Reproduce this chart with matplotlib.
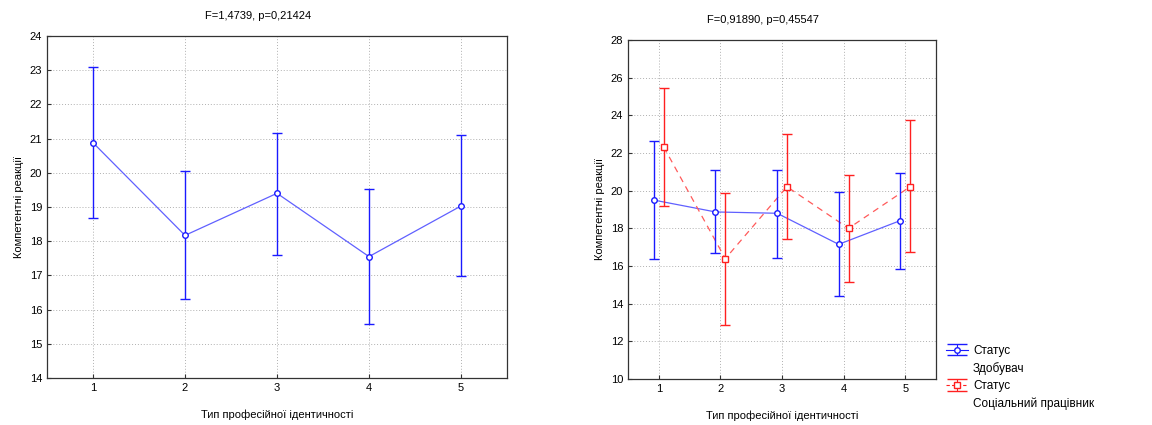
import numpy as np
import matplotlib.pyplot as plt
from matplotlib.lines import Line2D

plt.rcParams['font.family'] = ['Liberation Sans', 'DejaVu Sans']
plt.rcParams['font.size'] = 8

types = [1, 2, 3, 4, 5]

# left panel: total sample
total_mean = [20.88, 18.17, 19.40, 17.55, 19.03]
total_low = [18.68, 16.32, 17.60, 15.58, 16.97]
total_high = [23.10, 20.05, 21.17, 19.53, 21.10]

# right panel: by status
zd_mean = [19.50, 18.87, 18.80, 17.15, 18.41]
zd_low = [16.37, 16.67, 16.42, 14.42, 15.84]
zd_high = [22.64, 21.12, 21.12, 19.91, 20.94]

sp_mean = [22.32, 16.39, 20.21, 18.00, 20.21]
sp_low = [19.17, 12.87, 17.45, 15.13, 16.73]
sp_high = [25.43, 19.86, 22.99, 20.85, 23.73]

legend_rows = ["Статус", "Здобувач", "Статус", "Соціальний працівник"]
titles = ["F=1,4739, p=0,21424", "F=0,91890, p=0,45547"]
xlabel = "Тип професійної ідентичності"
ylabel = "Компетентні реакції"

BLUE = "#1a1aff"
BLUE_LINE = "#6060ff"
RED = "#ff2020"
RED_LINE = "#ff5a5a"


def yerr(mean, low, high):
    m = np.array(mean)
    return [m - np.array(low), np.array(high) - m]


def style_ax(ax):
    ax.grid(True, color="#b0b0b0", linestyle=(0, (1, 2)), linewidth=0.7)
    ax.set_axisbelow(True)
    for s in ax.spines.values():
        s.set_color("#333333")
        s.set_linewidth(0.9)
    ax.tick_params(direction="in", length=3, color="#333333", labelsize=8)
    ax.set_xticks(types)
    ax.set_xlim(0.5, 5.5)
    ax.set_xlabel(xlabel, labelpad=12)
    ax.set_ylabel(ylabel)


fig = plt.figure(figsize=(11.52, 4.25), dpi=100)
W, H = 1152, 425
ax1 = fig.add_axes([47 / W, 1 - 378 / H, 460 / W, 342 / H])
ax2 = fig.add_axes([628 / W, 1 - 379 / H, 308 / W, 339 / H])

x = np.array(types, dtype=float)
ax1.plot(x, total_mean, color=BLUE_LINE, lw=0.9, zorder=3)
ax1.errorbar(x, total_mean, yerr=yerr(total_mean, total_low, total_high),
             fmt="o", color=BLUE, mfc="white", mec=BLUE, ms=4,
             capsize=3.4, elinewidth=1.0, capthick=1.0, zorder=4)
style_ax(ax1)
ax1.set_ylim(14, 24)
ax1.set_yticks(range(14, 25))

off = 0.08
ax2.plot(x - off, zd_mean, color=BLUE_LINE, lw=0.9, zorder=3)
ax2.errorbar(x - off, zd_mean, yerr=yerr(zd_mean, zd_low, zd_high),
             fmt="o", color=BLUE, mfc="white", mec=BLUE, ms=4,
             capsize=3.3, elinewidth=1.0, capthick=1.0, zorder=4)
ax2.plot(x + off, sp_mean, color=RED_LINE, lw=0.9, ls=(0, (5, 4)), zorder=3)
ax2.errorbar(x + off, sp_mean, yerr=yerr(sp_mean, sp_low, sp_high),
             fmt="s", color=RED, mfc="white", mec=RED, ms=4,
             capsize=3.3, elinewidth=1.0, capthick=1.0, zorder=4)
style_ax(ax2)
ax2.set_ylim(10, 28)
ax2.set_yticks(range(10, 29, 2))

fig.text(258 / W, 1 - 16 / H, titles[0], ha="center", va="center", fontsize=8)
fig.text(763 / W, 1 - 20 / H, titles[1], ha="center", va="center", fontsize=8)

# legend proxies (off-data, wide caps like the original legend)
p1 = ax2.errorbar([np.nan], [np.nan], yerr=[[1], [1]], fmt="o-", color=BLUE,
                  mfc="white", mec=BLUE, ms=4, lw=0.8, capsize=7,
                  elinewidth=0.8, capthick=1.0)
p2 = ax2.errorbar([np.nan], [np.nan], yerr=[[1], [1]], fmt="s", ls=(0, (3, 2)),
                  color=RED, mfc="white", mec=RED, ms=4, lw=0.8, capsize=7,
                  elinewidth=0.8, capthick=1.0)
blank = Line2D([], [], linestyle="none")

fig.legend([p1, blank, p2, blank], legend_rows, loc="lower left",
           bbox_to_anchor=(940 / W, 1 - 416 / H), frameon=False, fontsize=8.5,
           handlelength=1.9, handletextpad=0.4, labelspacing=0.45,
           borderpad=0)

fig.savefig("out.png", dpi=100)
